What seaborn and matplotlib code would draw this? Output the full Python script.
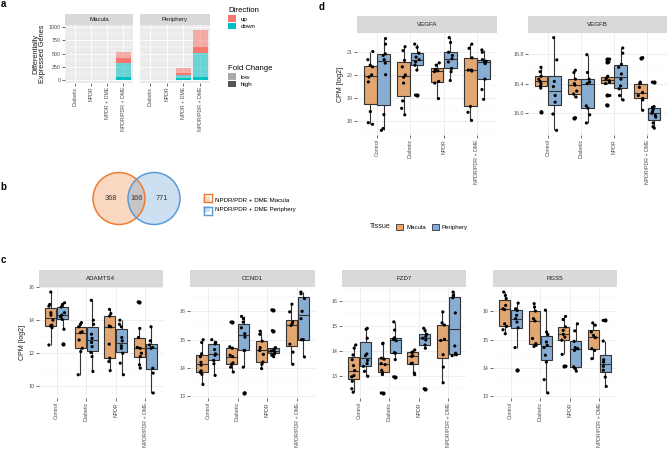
import numpy as np
import pandas as pd
import matplotlib
matplotlib.use('Agg')
import matplotlib.pyplot as plt
from matplotlib.patches import Circle, Patch
from matplotlib.ticker import MultipleLocator
import seaborn as sns

# ---------------- data ----------------
groups = ['Control', 'Diabetic', 'NPDR', 'NPDR/PDR + DME']
tissues = ['Macula', 'Periphery']

# panel a: number of DE genes, stacked down-high / down-low / up-high / up-low
deg_groups = ['Diabetic', 'NPDR', 'NPDR + DME', 'NPDR/PDR + DME']
macula_down_high = [0, 0, 0, 60]
macula_down_low = [0, 0, 0, 253]
macula_up_high = [0, 0, 0, 105]
macula_up_low = [1, 0, 5, 116]
periphery_down_high = [0, 0, 37, 48]
periphery_down_low = [0, 0, 61, 460]
periphery_up_high = [0, 0, 24, 124]
periphery_up_low = [4, 2, 110, 305]

# panel b: venn (macula only, shared, periphery only)
venn_labels = ['NPDR/PDR + DME Macula', 'NPDR/PDR + DME Periphery']
venn_counts = [368, 166, 771]

# panels c, d: CPM [log2] per group (Control, Diabetic, NPDR, NPDR/PDR + DME)
adamts4_macula = [[12.5, 13.55, 13.65, 13.7, 14.0, 14.3, 14.45, 14.85, 14.95, 15.7],
                  [10.7, 12.1, 12.3, 12.8, 13.25, 13.3, 13.6, 13.75, 13.85],
                  [10.95, 11.5, 11.7, 12.55, 13.6, 13.65, 14.25, 14.4, 14.65],
                  [11.1, 11.3, 11.8, 12.0, 12.3, 12.35, 12.95, 13.5, 15.1]]
adamts4_periphery = [[12.55, 13.45, 14.05, 14.2, 14.3, 14.45, 14.8, 14.95, 15.05],
                     [10.9, 11.8, 12.05, 12.4, 12.65, 12.9, 13.15, 13.75, 14.0, 15.2],
                     [10.7, 11.4, 12.0, 12.3, 12.45, 12.75, 12.95, 13.6, 13.75, 14.0],
                     [9.6, 10.8, 11.1, 12.3, 12.35, 12.5, 12.75, 13.6]]
ccnd1_macula = [[13.42, 13.78, 13.85, 13.9, 14.1, 14.2, 14.4, 14.5, 14.9, 15.0],
                [13.86, 14.03, 14.13, 14.18, 14.4, 14.45, 14.7, 14.75, 15.62],
                [13.98, 14.13, 14.21, 14.48, 14.62, 14.72, 14.95, 15.19, 15.3],
                [14.13, 14.56, 14.84, 15.5, 15.56, 15.62, 15.98, 16.25]]
ccnd1_periphery = [[13.74, 14.15, 14.27, 14.45, 14.5, 14.65, 14.85, 14.9, 15.0],
                   [13.12, 14.03, 14.62, 14.62, 15.09, 15.21, 15.42, 15.62, 15.74, 15.82],
                   [14.4, 14.45, 14.5, 14.56, 14.6, 14.62, 14.68, 14.72, 15.32, 16.05],
                   [14.39, 15.0, 15.0, 15.74, 16.0, 16.45, 16.62, 16.68]]
fzd7_macula = [[12.33, 12.47, 12.77, 12.95, 13.0, 13.2, 13.4, 13.64, 13.83, 14.1, 14.23],
               [12.3, 13.04, 13.13, 13.21, 13.44, 13.48, 13.66, 13.7, 14.28, 14.3],
               [13.04, 13.1, 13.48, 13.5, 13.77, 13.8, 13.93, 13.95, 14.03],
               [12.71, 13.34, 13.84, 14.41, 14.46, 15.03, 15.12, 15.56]]
fzd7_periphery = [[12.97, 13.17, 13.37, 13.48, 13.61, 13.8, 13.87, 14.5, 14.86, 14.9],
                  [12.95, 13.64, 13.9, 13.92, 14.4, 14.46, 14.48, 14.52, 14.83, 15.16],
                  [12.47, 14.1, 14.23, 14.43, 14.5, 14.57, 14.66, 14.8, 14.9],
                  [13.8, 13.84, 13.9, 14.19, 15.52, 16.13, 16.23, 16.36]]
rgs5_macula = [[15.21, 15.35, 15.47, 15.56, 16.06, 16.09, 16.21, 16.45, 16.56, 16.68],
               [14.76, 14.8, 14.86, 15.04, 15.66, 15.74, 16.01, 16.15, 16.27],
               [14.06, 14.48, 14.98, 15.09, 15.19, 15.33, 15.45, 15.71, 15.82],
               [14.33, 14.62, 14.68, 15.07, 15.15, 15.27, 15.51, 15.59]]
rgs5_periphery = [[13.92, 14.72, 15.42, 15.62, 15.74, 15.86, 16.03, 16.09, 16.29],
                  [13.12, 13.59, 14.21, 14.45, 14.72, 14.8, 14.92, 15.18, 15.27, 16.04],
                  [13.89, 13.98, 14.04, 14.62, 14.68, 14.72, 14.94, 15.31, 15.56],
                  [13.35, 13.68, 13.92, 14.06, 14.21, 14.29, 14.95, 15.68]]
vegfa_macula = [[17.86, 17.93, 18.41, 19.69, 19.9, 19.99, 20.34, 20.41, 20.65, 21.0],
                [18.27, 18.55, 18.87, 19.64, 19.89, 19.99, 20.34, 20.62, 21.04, 21.21],
                [18.97, 19.64, 19.71, 20.13, 20.17, 20.23, 20.41, 20.51],
                [18.03, 18.38, 18.63, 20.16, 20.2, 20.2, 20.73, 21.14, 21.32]]
vegfa_periphery = [[17.6, 17.68, 18.28, 20.0, 20.5, 20.65, 20.83, 20.9, 21.32, 21.56],
                   [19.12, 20.2, 20.41, 20.55, 20.65, 20.76, 20.93, 21.18, 21.32],
                   [19.75, 20.13, 20.27, 20.55, 20.69, 20.83, 20.97, 21.39, 21.6],
                   [18.94, 19.36, 19.81, 20.48, 20.55, 20.58, 20.65, 20.97, 21.07]]
vegfb_macula = [[16.02, 16.34, 16.37, 16.4, 16.43, 16.46, 16.5, 16.56, 16.62],
                [15.94, 16.22, 16.26, 16.3, 16.38, 16.4, 16.46, 16.55, 16.58],
                [16.11, 16.24, 16.4, 16.42, 16.44, 16.46, 16.48, 16.5, 16.69, 16.73],
                [16.04, 16.18, 16.2, 16.24, 16.28, 16.35, 16.4, 16.42, 16.75]]
vegfb_periphery = [[15.77, 15.99, 16.15, 16.24, 16.36, 16.43, 16.72, 17.02],
                   [15.87, 15.98, 16.07, 16.1, 16.4, 16.42, 16.46, 16.55, 16.79],
                   [16.18, 16.24, 16.33, 16.37, 16.46, 16.53, 16.62, 16.66, 16.81, 16.88],
                   [15.8, 15.82, 15.87, 15.95, 15.97, 16.0, 16.02, 16.05, 16.08, 16.09, 16.42]]

# ---------------- style ----------------
plt.rcParams['font.family'] = ['Liberation Sans', 'DejaVu Sans']
W, H = 667, 459
TICK_FS = 3.8
STRIP_FS = 4.4
TITLE_FS = 5.0
tissue_colors = ['#F4A460', '#7AAEDE']
np.random.seed(7)  # jitter only

fig = plt.figure(figsize=(W / 100, H / 100), dpi=100)


def add_px(x0, y0, x1, y1):
    return fig.add_axes([x0 / W, 1 - y1 / H, (x1 - x0) / W, (y1 - y0) / H])


def strip(x0, y0, x1, y1, label):
    sax = add_px(x0, y0, x1, y1)
    sax.set_facecolor('#D9D9D9')
    sax.set_xticks([])
    sax.set_yticks([])
    for s in sax.spines.values():
        s.set_visible(False)
    sax.text(0.5, 0.5, label, ha='center', va='center', fontsize=STRIP_FS,
             color='#1A1A1A', transform=sax.transAxes)


def style_axes(ax, bg, major, minor):
    ax.set_facecolor(bg)
    for s in ax.spines.values():
        s.set_visible(False)
    ax.set_axisbelow(True)
    ax.grid(which='major', color=major, lw=0.6)
    ax.grid(which='minor', axis='y', color=minor, lw=0.35)
    ax.tick_params(which='major', length=2, width=0.5, color='#333333',
                   labelsize=TICK_FS, labelcolor='#4D4D4D', pad=1)
    ax.tick_params(which='minor', length=0)
    ax.tick_params(axis='x', which='major', labelrotation=90)


def gene_frame(macula, periphery):
    rows = []
    for tissue, vals in zip(tissues, [macula, periphery]):
        for g, v in zip(groups, vals):
            for x in v:
                rows.append((g, tissue, x))
    return pd.DataFrame(rows, columns=['Group', 'Tissue', 'CPM'])


def box_panel(box, name, macula, periphery, major, ylabel):
    x0, y0, x1, y1 = box
    strip(x0, y0 - 17, x1, y0, name)
    ax = add_px(x0, y0, x1, y1)
    df = gene_frame(macula, periphery)
    sns.boxplot(data=df, x='Group', y='CPM', hue='Tissue', order=groups, hue_order=tissues,
                palette=tissue_colors, width=0.8, gap=0.06, linewidth=0.8, linecolor='#333333',
                showcaps=False, fliersize=2.0,
                flierprops=dict(marker='o', markerfacecolor='black', markeredgecolor='black'),
                legend=False, ax=ax)
    sns.stripplot(data=df, x='Group', y='CPM', hue='Tissue', order=groups, hue_order=tissues,
                  palette=['black', 'black'], dodge=True, jitter=0.15, size=2.3,
                  legend=False, ax=ax)
    lo, hi = df['CPM'].min(), df['CPM'].max()
    pad = 0.05 * (hi - lo)
    ax.set_ylim(lo - pad, hi + pad)
    ax.set_xlim(-0.6, 3.6)
    ax.yaxis.set_major_locator(MultipleLocator(major))
    ax.yaxis.set_minor_locator(MultipleLocator(major / 2))
    style_axes(ax, 'white', '#EBEBEB', '#F3F3F3')
    ax.set_xlabel('')
    ax.set_ylabel('CPM [log2]' if ylabel else '', fontsize=TITLE_FS, color='#1A1A1A', labelpad=2)
    return ax


# ---------------- panel a ----------------
stack_colors = ['#00BFC4', '#00BFC4', '#F8766D', '#F8766D']
stack_alpha = [1.0, 0.55, 1.0, 0.55]
panel_a = [('Macula', (65, 133), [macula_down_high, macula_down_low, macula_up_high, macula_up_low]),
           ('Periphery', (140, 210), [periphery_down_high, periphery_down_low, periphery_up_high, periphery_up_low])]
for i, (tissue, (x0, x1), parts) in enumerate(panel_a):
    strip(x0, 14, x1, 24.5, tissue)
    ax = add_px(x0, 24.5, x1, 82.5)
    bottom = np.zeros(len(deg_groups))
    for vals, c, a in zip(parts, stack_colors, stack_alpha):
        ax.bar(deg_groups, vals, width=0.9, bottom=bottom, color=c, alpha=a, linewidth=0)
        bottom += np.array(vals)
    ax.set_xlim(-0.6, 3.6)
    ax.set_ylim(-50, 1050)
    ax.yaxis.set_major_locator(MultipleLocator(250))
    ax.yaxis.set_minor_locator(MultipleLocator(125))
    style_axes(ax, '#EBEBEB', 'white', 'white')
    if i == 0:
        ax.set_ylabel('Differentially\nExpressed Genes', fontsize=TITLE_FS + 0.3,
                      color='#1A1A1A', labelpad=2, linespacing=1.0)
    else:
        ax.tick_params(axis='y', labelleft=False, length=0)

leg = fig.legend([Patch(facecolor='#F8766D'), Patch(facecolor='#00BFC4')], ['up', 'down'],
                 title='Direction', loc='upper left', bbox_to_anchor=(228 / W, 1 - 7 / H),
                 frameon=False, fontsize=4.5, title_fontsize=5.6, handlelength=1.2,
                 handleheight=1.2, labelspacing=0.2, borderpad=0, borderaxespad=0,
                 handletextpad=0.8, alignment='left')
fig.legend([Patch(facecolor='#ABABAB'), Patch(facecolor='#555555')], ['low', 'high'],
           title='Fold Change', loc='upper left', bbox_to_anchor=(228 / W, 1 - 65 / H),
           frameon=False, fontsize=4.5, title_fontsize=5.6, handlelength=1.2,
           handleheight=1.2, labelspacing=0.2, borderpad=0, borderaxespad=0,
           handletextpad=0.8, alignment='left')

# ---------------- panel b ----------------
venn_colors = ['#ED7D31', '#5B9BD5']
vax = add_px(80, 165, 200, 232)
vax.set_xlim(80, 200)
vax.set_ylim(232, 165)
vax.axis('off')
for cx, c in zip([119, 154], venn_colors):
    vax.add_patch(Circle((cx, 198.5), 26, facecolor=c, alpha=0.3, lw=0))
for cx, c in zip([119, 154], venn_colors):
    vax.add_patch(Circle((cx, 198.5), 26, fill=False, edgecolor=c, lw=1.1))
for tx, n in zip([111, 136.5, 162], venn_counts):
    vax.text(tx, 198.5, str(n), ha='center', va='center', fontsize=5.3, color='#333333')
fig.legend([Patch(facecolor=c, alpha=0.3, lw=0) for c in venn_colors],
           venn_labels, loc='center left', bbox_to_anchor=(203 / W, 1 - 204.5 / H),
           frameon=False, fontsize=4.4, handlelength=1.2, handleheight=1.2,
           labelspacing=0.45, borderpad=0, borderaxespad=0, handletextpad=0.7)
for yy, c in zip([198, 211], venn_colors):
    bx = add_px(204, yy - 4, 212, yy + 4)
    bx.set_xticks([])
    bx.set_yticks([])
    bx.set_facecolor('none')
    for s in bx.spines.values():
        s.set_edgecolor(c)
        s.set_linewidth(1.0)

# ---------------- panel c ----------------
box_panel((39, 287, 163, 398), 'ADAMTS4', adamts4_macula, adamts4_periphery, 2, True)
box_panel((190, 287, 315, 398), 'CCND1', ccnd1_macula, ccnd1_periphery, 1, False)
box_panel((342, 287, 466, 398), 'FZD7', fzd7_macula, fzd7_periphery, 1, False)
box_panel((493, 287, 617, 398), 'RGS5', rgs5_macula, rgs5_periphery, 1, False)

# ---------------- panel d ----------------
box_panel((357, 33, 497, 135), 'VEGFA', vegfa_macula, vegfa_periphery, 1, True)
box_panel((528, 33, 667, 135), 'VEGFB', vegfb_macula, vegfb_periphery, 0.4, False)

fig.text(370 / W, 1 - 227 / H, 'Tissue', fontsize=TITLE_FS, va='center', color='#1A1A1A')
fig.legend([Patch(facecolor=c, edgecolor='#333333', lw=0.6) for c in tissue_colors], tissues,
           loc='center left', bbox_to_anchor=(396 / W, 1 - 227 / H), ncol=2, frameon=False,
           fontsize=4.4, handlelength=1.2, handleheight=1.2, borderpad=0, borderaxespad=0,
           handletextpad=0.5, columnspacing=0.9)

# panel letters
for letter, (px, py) in zip('abcd', [(3, 4), (3, 187), (3, 260), (322, 7.5)]):
    fig.text(px / W, 1 - py / H, letter, fontsize=7, fontweight='bold', ha='center', va='center')

fig.savefig('out.png', dpi=100)
